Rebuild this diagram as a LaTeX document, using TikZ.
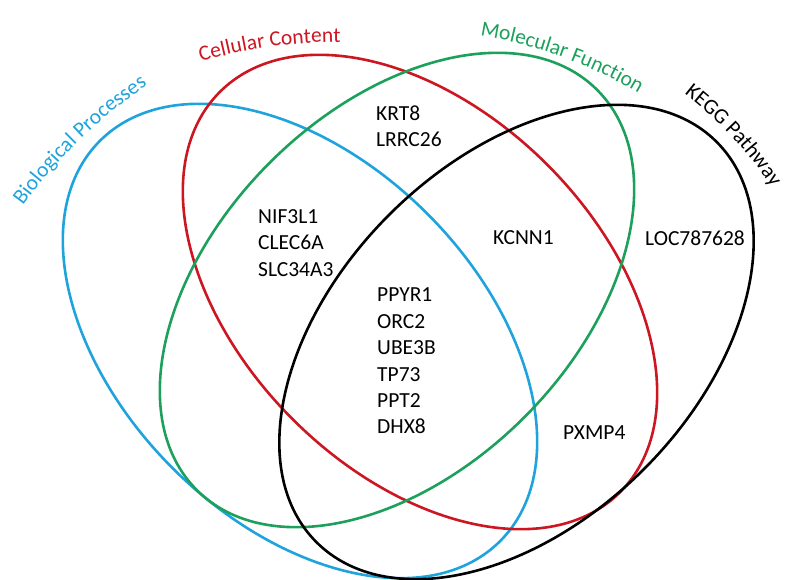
\documentclass[tikz,border=0pt]{standalone}
\usepackage{fontspec}
\setmainfont{Carlito}
\usetikzlibrary{decorations.text}

\definecolor{bpblue}{RGB}{30,163,220}
\definecolor{ccred}{RGB}{204,22,34}
\definecolor{mfgreen}{RGB}{28,160,92}
\definecolor{kgblack}{RGB}{0,0,0}

\tikzset{
  setline/.style={line width=2.6pt},
  gene/.style={inner sep=0pt, anchor=west, align=left,
    font=\fontsize{21.5}{26.4}\selectfont, text=black},
  setlabel/.style={decorate, decoration={text along path, text align=center,
    text={#1}}},
}
\newcommand{\lblfont}{\fontsize{21.5}{26}\selectfont}

\begin{document}
\begin{tikzpicture}[x=1pt,y=1pt]
  \useasboundingbox (0,0) rectangle (789,579);

  % the four sets
  \draw[setline, bpblue, rotate around={-45:(300,238)}]
    (300,238) ellipse [x radius=283, y radius=180];
  \draw[setline, ccred, rotate around={-45:(420,287)}]
    (420,287) ellipse [x radius=283, y radius=180];
  \draw[setline, mfgreen, rotate around={45:(397,289)}]
    (397,289) ellipse [x radius=283, y radius=180];
  \draw[setline, kgblack, rotate around={45:(516.5,237)}]
    (516.5,237) ellipse [x radius=283, y radius=180];

  % set names, set on gentle arcs
  \path[setlabel={|\lblfont\color{bpblue}|Biological Processes}]
    (427.3,79.4) ++(149:500) arc[start angle=149, end angle=119, radius=500];
  \path[setlabel={|\lblfont\color{ccred}|Cellular Content}]
    (339.6,36.9) ++(113:500) arc[start angle=113, end angle=83, radius=500];
  \path[setlabel={|\lblfont\color{mfgreen}|Molecular Function}]
    (408.1,99.1) ++(85:450) arc[start angle=85, end angle=55, radius=450];
  \path[setlabel={|\lblfont\color{kgblack}|KEGG Pathway}]
    (439.4,169.2) ++(58:400) arc[start angle=58, end angle=28, radius=400];

  % genes in each region
  \node[gene] (cm) at (376,452.5) {KRT8\\LRRC26};
  \node[gene] (bcm) at (258,336) {NIF3L1\\CLEC6A\\SLC34A3};
  \node[gene] (cmk) at (493,341) {KCNN1};
  \node[gene] (k) at (645,341) {LOC787628};
  \node[gene] (all) at (377,218) {PPYR1\\ORC2\\UBE3B\\TP73\\PPT2\\DHX8};
  \node[gene] (ck) at (563,146) {PXMP4};
\end{tikzpicture}
\end{document}
